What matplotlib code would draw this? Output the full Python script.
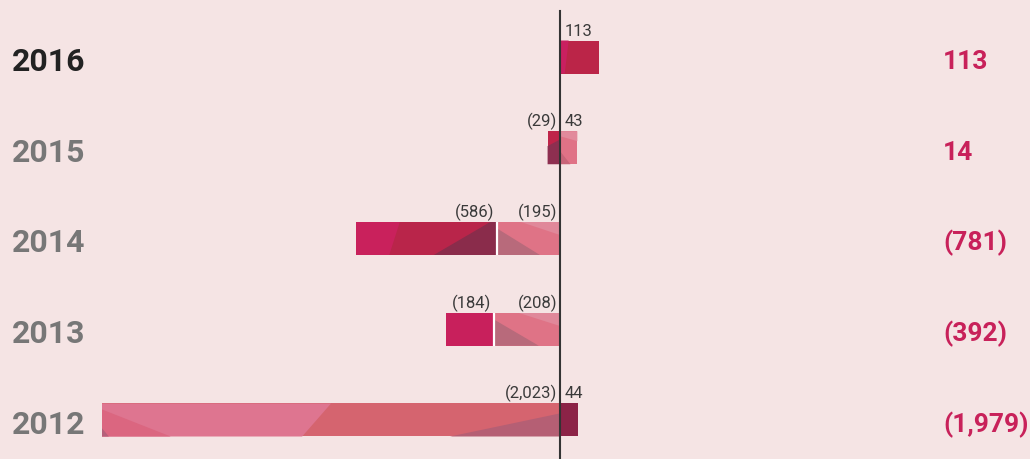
import numpy as np
import matplotlib
matplotlib.use('Agg')
import matplotlib.pyplot as plt
from matplotlib.patches import Polygon
from matplotlib import transforms

# данные
years = ['2016', '2015', '2014', '2013', '2012']
part_a = [113, -29, -586, -184, 44]
part_b = [0, 43, -195, -208, -2023]
totals = [113, 14, -781, -392, -1979]

# стили сегментов (грани внутри баров задаются в долях бара, слева направо)
style_a = ['crimson', 'crimson_small', 'crimson_big', 'crimson_plain', 'dark']
style_b = [None, 'pink_small', 'pink', 'pink', 'rose_long']

styles = {
    'crimson': ('#bb2548', [('#c92060', [(0, 0), (0.22, 0), (0.12, 1), (0, 1)])]),
    'crimson_small': ('#bf2449', [('#8d2f50', [(0, 0.45), (1, 0.25), (1, 1), (0, 1)])]),
    'crimson_big': ('#b9254a', [('#c9215c', [(0, 0), (0.31, 0), (0.235, 1), (0, 1)]),
                                ('#8a2c4b', [(0.55, 1), (0.95, 0), (1, 0), (1, 1)])]),
    'crimson_plain': ('#c8205c', []),
    'dark': ('#8c2347', []),
    'pink': ('#df7386', [('#e0889a', [(0.38, 0), (1, 0), (1, 0.4)]),
                         ('#b86a7b', [(0, 0.2), (0.68, 1), (0, 1)])]),
    'pink_small': ('#e07286', [('#e28a9c', [(0, 0), (1, 0), (1, 0.3), (0, 0.15)]),
                               ('#c86478', [(0, 0.6), (0.6, 1), (0, 1)])]),
    'rose_long': ('#d5646f', [('#de7590', [(0, 0), (0.50, 0), (0.437, 1), (0, 1)]),
                              ('#db6680', [(0, 0.18), (0.15, 1), (0, 1)]),
                              ('#b5607a', [(0, 0.75), (0.015, 1), (0, 1)]),
                              ('#b55f74', [(0.76, 1), (1, 0.3), (1, 1)])]),
}

bg = '#f5e4e4'
label_col = '#c8215a'
p = 0.85


def fwd(x):
    x = np.asarray(x, dtype=float)
    return np.sign(x) * np.abs(x) ** p


def inv(f):
    f = np.asarray(f, dtype=float)
    return np.sign(f) * np.abs(f) ** (1 / p)


plt.rcParams['font.family'] = ['Roboto', 'DejaVu Sans']

fig = plt.figure(figsize=(10.3, 4.6), dpi=100, facecolor=bg)
ax = fig.add_axes([0, 0, 1, 1], facecolor=bg)
ax.set_xscale('function', functions=(fwd, inv))

# масштаб: ноль на 560 px, самый длинный бар до 102 px
k = 458 / float(fwd(2023))
ax.set_xlim(float(inv(-560 / k)), float(inv(470 / k)))
step = 90.75
ax.set_ylim((460 - 58) / step, -58 / step)
ax.axis('off')

h = 33 / step


def draw_seg(y, x0, x1, style):
    x0, x1 = min(x0, x1), max(x0, x1)
    base, facets = styles[style]
    ax.barh(y, x1 - x0, left=x0, height=h, color=base, zorder=2)
    f0, f1 = float(fwd(x0)), float(fwd(x1))
    for col, pts in facets:
        verts = [(float(inv(f0 + u * (f1 - f0))), y - h / 2 + v * h) for u, v in pts]
        ax.add_patch(Polygon(verts, closed=True, color=col, lw=0, zorder=3))


def seg_label(y, x0, x1, val):
    txt = f'{abs(val):,}'
    if val < 0:
        txt = f'({txt})'
        ax.annotate(txt, (max(x0, x1), y - h / 2), xytext=(-3, 6), textcoords='offset pixels',
                    ha='right', va='baseline', fontsize=12, color='#3a3a3a')
    else:
        ax.annotate(txt, (min(x0, x1), y - h / 2), xytext=(5, 6), textcoords='offset pixels',
                    ha='left', va='baseline', fontsize=12, color='#3a3a3a')


blend = transforms.blended_transform_factory(ax.transAxes, ax.transData)

for i, yr in enumerate(years):
    a, b = part_a[i], part_b[i]
    if b != 0:
        draw_seg(i, 0, b, style_b[i])
        seg_label(i, 0, b, b)
    if b != 0 and np.sign(a) == np.sign(b):
        a0, a1 = b, b + a
        ax.plot([b, b], [i - h / 2, i + h / 2], color='white', lw=1.6, zorder=4,
                solid_capstyle='butt')
    else:
        a0, a1 = 0, a
    draw_seg(i, a0, a1, style_a[i])
    seg_label(i, a0, a1, a)

    ax.annotate(yr, (12 / 1030, i), xycoords=blend, xytext=(0, -13), textcoords='offset pixels',
                ha='left', va='baseline', fontsize=23, fontweight='bold',
                color='#222222' if i == 0 else '#777777')
    t = totals[i]
    tt = f'({abs(t):,})' if t < 0 else f'{t:,}'
    ax.annotate(tt, (943 / 1030, i), xycoords=blend, xytext=(0, -11), textcoords='offset pixels',
                ha='left', va='baseline', fontsize=19, fontweight='bold', color=label_col)

# нулевая линия
ax.axvline(0, ymin=0, ymax=(460 - 12) / 460, color='#333333', lw=1.5, zorder=6)

fig.savefig('out.png', dpi=100, facecolor=bg)
